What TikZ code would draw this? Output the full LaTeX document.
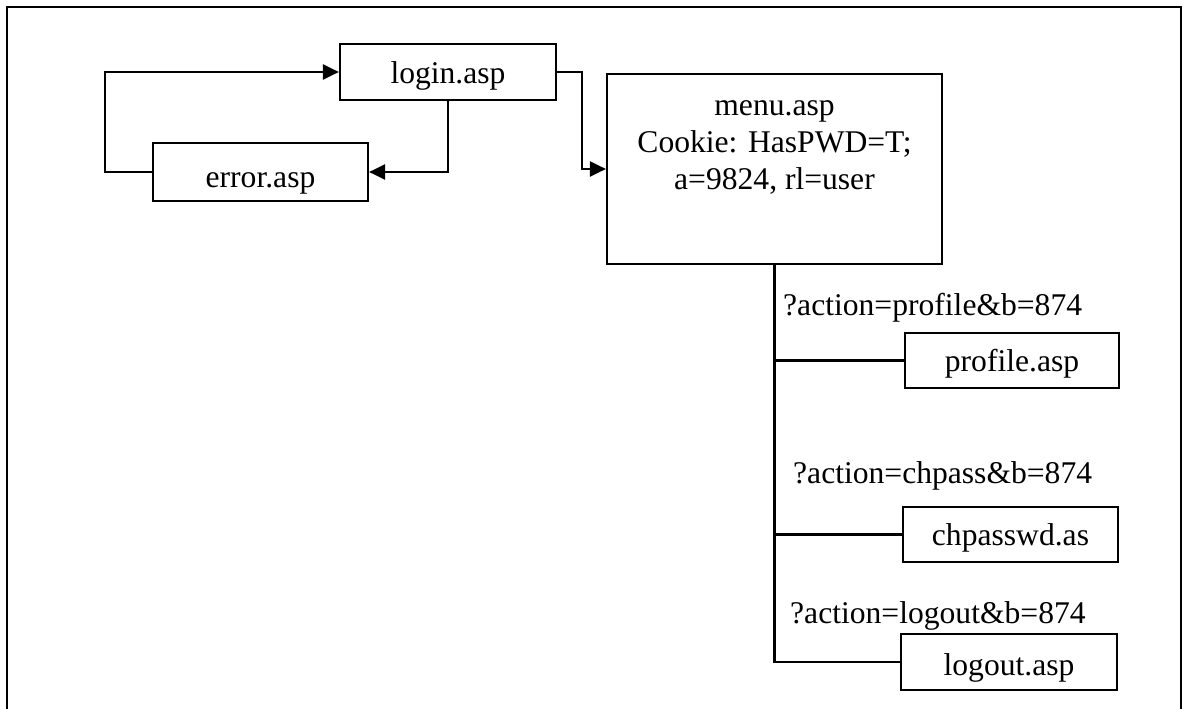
\documentclass[tikz,border=0pt]{standalone}
\usepackage{fontspec}
\setmainfont{Liberation Serif}
\usetikzlibrary{arrows.meta}
\begin{document}
\begin{tikzpicture}[x=1pt,y=-1pt,
  every node/.style={font=\fontsize{31.6}{37}\selectfont, inner sep=0pt},
  page box/.style={draw, line width=2.2pt, rectangle},
  off/.style={text height={(20+#1)*1pt}, text depth={(20-#1)*1pt}},
  link/.style={draw, line width=2.2pt},
  arr/.style={link, -{Triangle[length=16pt,width=15pt]}},
  branch label/.style={anchor=base west}
]
\useasboundingbox (0,0) rectangle (1183,709);
\draw[line width=2.8pt] (7,712) -- (7,7) -- (1181,7) -- (1181,712);

\node[page box, minimum width=216, minimum height=56, off=12] (login) at (448,72) {login.asp};
\node[page box, minimum width=215, minimum height=58, off=15] (error) at (260.5,172) {error.asp};
\node[page box, minimum width=335, minimum height=190] (menu) at (774.5,169) {};
\node[align=center, anchor=base] (menutext) at (774.5,189) {menu.asp\\Cookie: HasPWD=T;\\a=9824, rl=user};
\node[page box, minimum width=214, minimum height=55, off=10.5] (profile) at (1012,360.5) {profile.asp};
\node[page box, minimum width=215, minimum height=55, off=10.5] (chpasswd) at (1010.5,534.5) {chpasswd.as};
\node[page box, minimum width=216, minimum height=56, off=13] (logout) at (1009,662) {logout.asp};

\node[branch label] (lprofile) at (783,315) {?action=profile\&b=874};
\node[branch label] (lchpass) at (793,483) {?action=chpass\&b=874};
\node[branch label] (llogout) at (790,623) {?action=logout\&b=874};

\draw[arr] (error.west) -- ++(-47,0) |- (login.west);
\draw[arr] (login.south) |- (error.east);
\draw[arr] (login.east) -- ++(25,0) |- (menu.west);
\draw[link] (menu.south) |- (logout.west);
\draw[link] (menu.south |- profile.west) -- (profile.west);
\draw[link] (menu.south |- chpasswd.west) -- (chpasswd.west);
\end{tikzpicture}
\end{document}
